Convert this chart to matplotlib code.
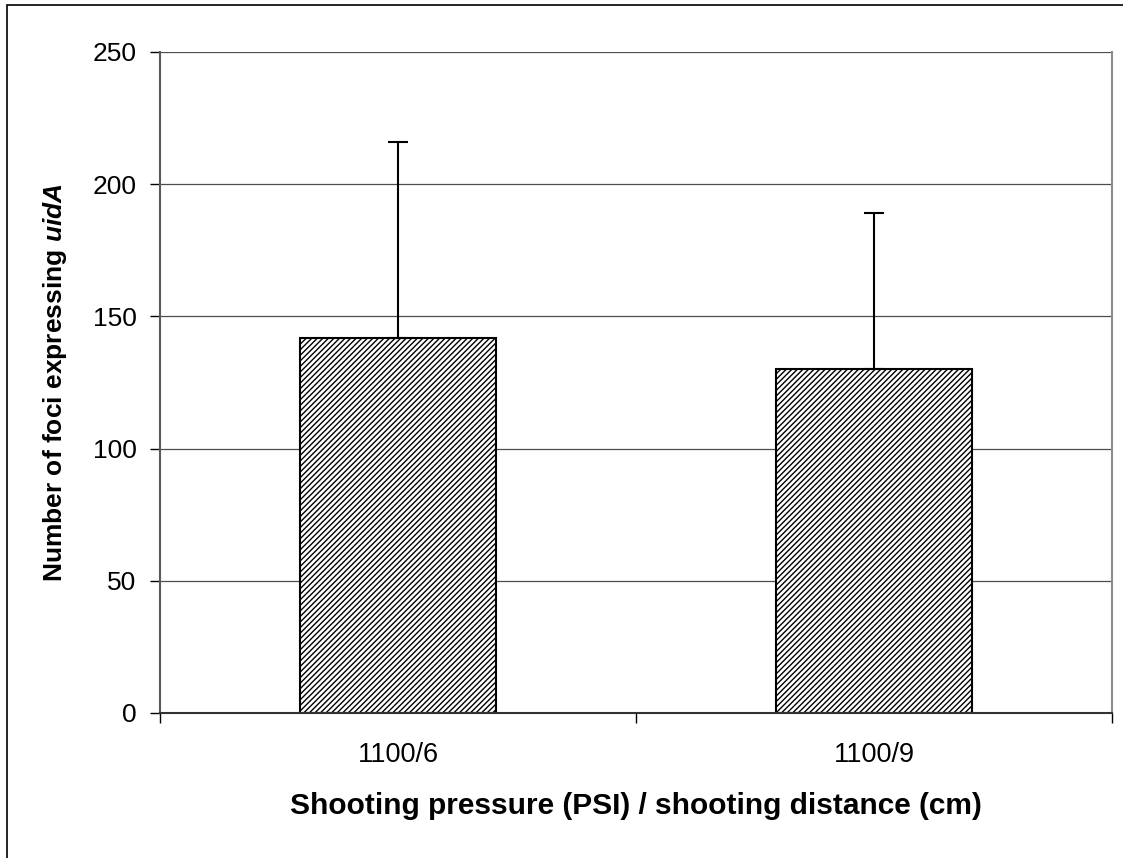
import numpy as np
import matplotlib.pyplot as plt
from matplotlib.patches import Rectangle

plt.rcParams['font.family'] = ['Liberation Sans', 'DejaVu Sans']
plt.rcParams['mathtext.fontset'] = 'custom'
plt.rcParams['mathtext.bfit'] = 'Liberation Sans:italic:bold'
plt.rcParams['hatch.linewidth'] = 1.0

categories = ['1100/6', '1100/9']
foci = [142, 130]
foci_err = [74, 59]
y_ticks = [0, 50, 100, 150, 200, 250]

fig = plt.figure(figsize=(11.23, 8.58), dpi=100)
ax = fig.add_axes([0.1425, 0.169, 0.8477, 0.7704])

x = np.arange(len(categories))
ax.bar(x, foci, width=0.41, color='white', edgecolor='black', linewidth=1.5,
       hatch='//////', zorder=2)
ax.errorbar(x, foci, yerr=[np.zeros(len(foci)), foci_err], fmt='none',
            ecolor='black', elinewidth=1.5, capsize=7, capthick=1.5, zorder=3)

ax.set_xlim(-0.5, 1.5)
ax.set_ylim(0, 250)
ax.set_yticks(y_ticks)
ax.yaxis.grid(True, color='0.3', linewidth=0.9, zorder=0)
ax.set_axisbelow(True)

ax.set_xticks(x)
ax.set_xticklabels(categories, fontsize=19.5)
ax.tick_params(axis='x', length=0, pad=21)
ax.set_xticks([-0.5, 0.5, 1.5], minor=True)
ax.tick_params(axis='x', which='minor', length=7, width=1, color='black', direction='out')
ax.tick_params(axis='y', labelsize=19, length=7, width=1, direction='out', pad=10)

ax.spines['top'].set_visible(False)
ax.spines['right'].set_color('0.55')
ax.spines['right'].set_linewidth(1.5)
ax.spines['left'].set_color('0.35')
ax.spines['left'].set_linewidth(1.5)
ax.spines['bottom'].set_color('0.2')
ax.spines['bottom'].set_linewidth(1.5)

ax.set_xlabel('Shooting pressure (PSI) / shooting distance (cm)', fontsize=21.5,
              fontweight='bold', labelpad=17)
ax.set_ylabel(r'Number of foci expressing $\mathbfit{uidA}$', fontsize=19,
              fontweight='bold', labelpad=17)

fig.patches.append(Rectangle((0.0062, -0.01), 1.0, 1.0 - 0.0058 + 0.01,
                             transform=fig.transFigure, fill=False,
                             edgecolor='black', linewidth=1.2))

fig.savefig('out.png', dpi=100)
